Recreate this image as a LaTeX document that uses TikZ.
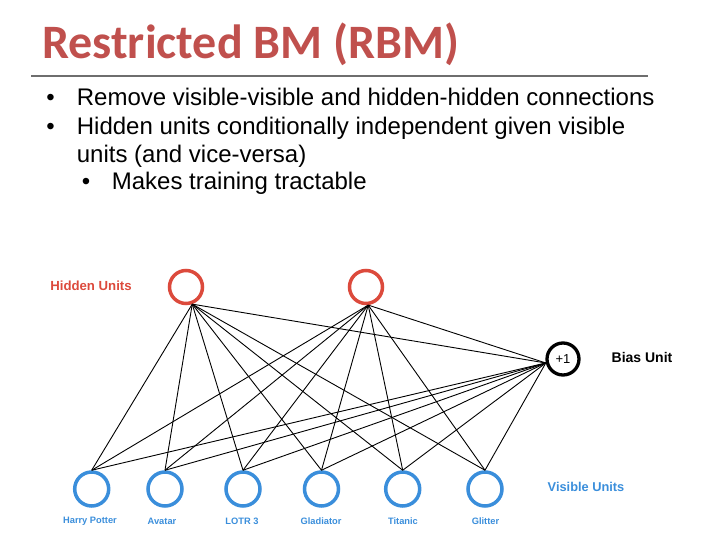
\documentclass[tikz,border=0pt]{standalone}
\usepackage{fontspec}
\setmainfont{Liberation Sans}
\newfontfamily\titlefont{Carlito}
\definecolor{titlered}{HTML}{C0504D}
\definecolor{rulegray}{HTML}{6E6E6E}
\definecolor{hidred}{HTML}{DC4A3C}
\definecolor{visblue}{HTML}{3A8EDB}
\tikzset{
  hidunit/.style={circle,draw=hidred,line width=3.5pt,minimum size=33pt,inner sep=0pt},
  visunit/.style={circle,draw=visblue,line width=3.5pt,minimum size=34pt,inner sep=0pt},
  biasunit/.style={circle,draw=black,line width=3.3pt,minimum size=32pt,inner sep=0pt,font=\fontsize{13}{15}\selectfont},
  conn/.style={draw=black,line width=0.9pt},
  bodytext/.style={anchor=base west,inner sep=0pt,font=\fontsize{24}{28}\selectfont},
  bulletmark/.style={anchor=base,inner sep=0pt,font=\fontsize{24}{28}\selectfont},
  movielabel/.style={inner sep=0pt,text=visblue,font=\fontsize{9.3}{11}\selectfont\bfseries},
  grouplabel/.style={inner sep=0pt,font=\fontsize{13.2}{15}\selectfont\bfseries}
}
\begin{document}
\begin{tikzpicture}[x=1pt,y=-1pt]
\useasboundingbox (0,0) rectangle (720,540);
% title
\node[anchor=base west,inner sep=0pt,text=titlered,font=\titlefont\fontsize{48}{54}\selectfont\bfseries] (title) at (42,59) {Restricted BM (RBM)};
\coordinate (ruleL) at (31,76);
\coordinate (ruleR) at (648,76);
\draw[rulegray,line width=2.7pt] (ruleL) -- (ruleR);
% bullets
\node[bulletmark] (b1) at (50.7,106) {•};
\node[bodytext] (t1) at (76.7,106) {Remove visible-visible and hidden-hidden connections};
\node[bulletmark] (b2) at (50.7,135) {•};
\node[bodytext] (t2) at (76.7,135) {Hidden units conditionally independent given visible};
\node[bodytext] (t3) at (76.7,162.7) {units (and vice-versa)};
\node[bulletmark] (b3) at (86,190) {•};
\node[bodytext] (t4) at (111.7,190) {Makes training tractable};
% units
\node[hidunit] (h1) at (186,287) {};
\node[hidunit] (h2) at (366,287) {};
\node[biasunit] (bias) at (563,359) {+1};
\node[visunit] (v1) at (91.7,489) {};
\node[visunit] (v2) at (165,489) {};
\node[visunit] (v3) at (243,489) {};
\node[visunit] (v4) at (321.5,489) {};
\node[visunit] (v5) at (402.7,489) {};
\node[visunit] (v6) at (485,489) {};
% connections
\foreach \v in {v1,v2,v3,v4,v5,v6}{
  \draw[conn] (h1.-70) -- (\v.north);
  \draw[conn] (h2.-83) -- (\v.north);
  \draw[conn] (bias.193) -- (\v.north);
}
\draw[conn] (bias.193) -- (h1.-70);
\draw[conn] (bias.193) -- (h2.-83);
% labels
\node[grouplabel,text=hidred] (lh) at (91,286) {Hidden Units};
\node[grouplabel,text=visblue,font=\fontsize{12.8}{15}\selectfont\bfseries] (lv) at (586,487) {Visible Units};
\node[grouplabel,text=black,font=\fontsize{14}{16}\selectfont\bfseries] (lb) at (642,357) {Bias Unit};
\node[movielabel] (m1) at (90,521) {Harry Potter};
\node[movielabel] (m2) at (162,521) {Avatar};
\node[movielabel] (m3) at (242,521) {LOTR 3};
\node[movielabel] (m4) at (321,521) {Gladiator};
\node[movielabel] (m5) at (403,521) {Titanic};
\node[movielabel] (m6) at (485.5,521) {Glitter};
\end{tikzpicture}
\end{document}
